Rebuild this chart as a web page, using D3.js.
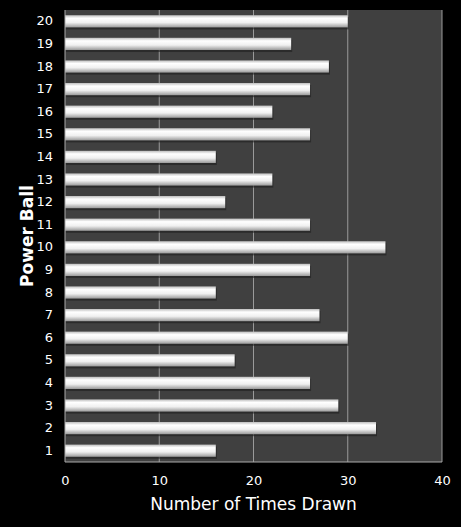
<!DOCTYPE html>
<html><head><meta charset="utf-8">
<script src="https://cdn.jsdelivr.net/npm/d3@7"></script>
<style>body{margin:0;background:#000}</style></head>
<body><svg id="c" width="461" height="527"></svg>
<script>
const categories = ["1","2","3","4","5","6","7","8","9","10","11","12","13","14","15","16","17","18","19","20"];
const values = [16,33,29,26,18,30,27,16,26,34,26,17,22,16,26,22,26,28,24,30];
const xTicks = [0,10,20,30,40];

const svg = d3.select("#c");
const m = {l:65, r:19, t:10, b:65};
const W = 461, H = 527;
const x = d3.scaleLinear().domain([0,40]).range([m.l, W-m.r]);
const y = d3.scaleBand().domain(categories.slice().reverse()).range([m.t, H-m.b]).paddingInner(0.46).paddingOuter(0.23);

const defs = svg.append("defs");
const g = defs.append("linearGradient").attr("id","bg").attr("x1",0).attr("x2",0).attr("y1",0).attr("y2",1);
g.append("stop").attr("offset","0%").attr("stop-color","#bdbdbd");
g.append("stop").attr("offset","25%").attr("stop-color","#ffffff");
g.append("stop").attr("offset","60%").attr("stop-color","#f0f0f0");
g.append("stop").attr("offset","100%").attr("stop-color","#9a9a9a");

svg.append("rect").attr("x",m.l).attr("y",m.t).attr("width",W-m.r-m.l).attr("height",H-m.b-m.t).attr("fill","#404040");
svg.append("g").selectAll("line").data(xTicks.slice(1)).join("line")
  .attr("x1",d=>x(d)).attr("x2",d=>x(d)).attr("y1",m.t).attr("y2",H-m.b)
  .attr("stroke","#9a9a9a").attr("stroke-width",1);

svg.append("g").selectAll("rect").data(values).join("rect")
  .attr("x",x(0)+1).attr("y",(d,i)=>y(categories[i])+2).attr("width",d=>x(d)-x(0)).attr("height",y.bandwidth())
  .attr("fill","#1e1e1e").attr("opacity",0.6);
svg.append("g").selectAll("rect").data(values).join("rect")
  .attr("x",x(0)).attr("y",(d,i)=>y(categories[i])).attr("width",d=>x(d)-x(0)).attr("height",y.bandwidth())
  .attr("fill","url(#bg)");

svg.append("line").attr("x1",m.l).attr("x2",m.l).attr("y1",m.t).attr("y2",H-m.b).attr("stroke","#aaa");
svg.append("line").attr("x1",m.l).attr("x2",W-m.r).attr("y1",H-m.b).attr("y2",H-m.b).attr("stroke","#aaa");

const xa = svg.append("g").attr("transform",`translate(0,${H-m.b})`).call(d3.axisBottom(x).tickValues(xTicks).tickSize(0).tickPadding(14));
xa.select(".domain").remove();
xa.selectAll("text").attr("fill","#fff").style("font","13px 'DejaVu Sans', sans-serif");
const ya = svg.append("g").attr("transform",`translate(${m.l},0)`).call(d3.axisLeft(y).tickSize(0).tickPadding(12));
ya.select(".domain").remove();
ya.selectAll("text").attr("fill","#fff").style("font","13px 'DejaVu Sans', sans-serif");

svg.append("text").attr("x",(m.l+W-m.r)/2).attr("y",510).attr("text-anchor","middle").attr("fill","#fff")
  .style("font","17px 'DejaVu Sans', sans-serif").text("Number of Times Drawn");
svg.append("text").attr("transform",`translate(33,${(m.t+H-m.b)/2}) rotate(-90)`).attr("text-anchor","middle").attr("fill","#fff")
  .style("font","bold 17px 'DejaVu Sans', sans-serif").text("Power Ball");
</script></body></html>
